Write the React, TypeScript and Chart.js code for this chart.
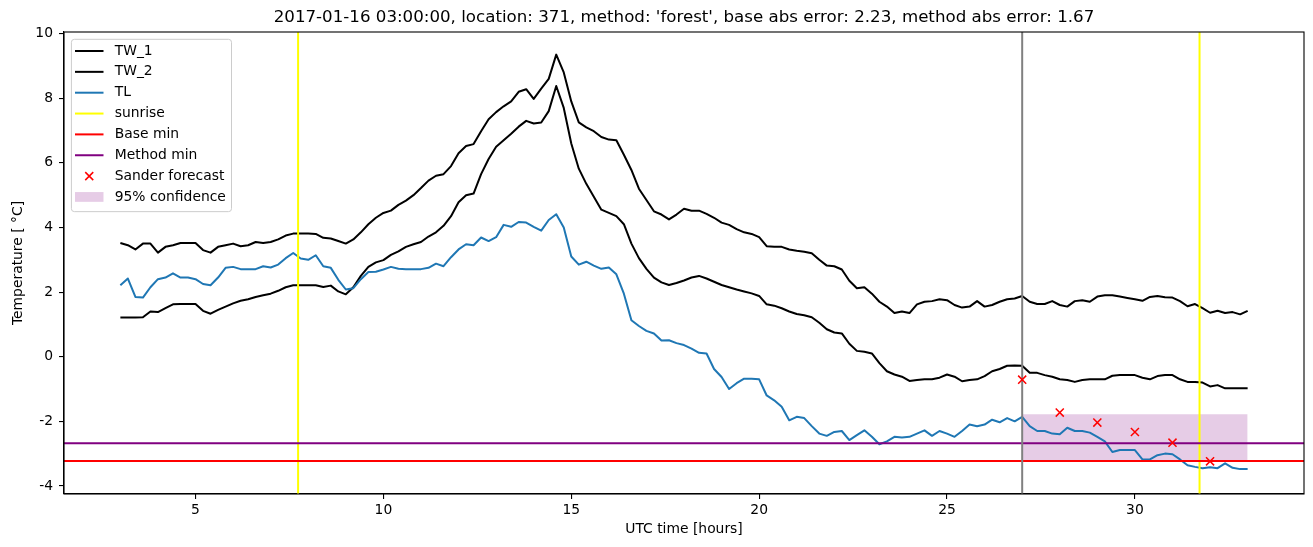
import React, { useEffect, useRef } from 'react';
import { Chart, registerables } from 'chart.js';

Chart.register(...registerables);

const TITLE = "2017-01-16 03:00:00, location: 371, method: 'forest', base abs error: 2.23, method abs error: 1.67";
const X_LABEL = 'UTC time [hours]';
const Y_LABEL = 'Temperature [ °C]';

// time grid (hours, UTC), every 0.2 h from 3 to 33
const HOURS = Array.from({ length: 151 }, (_, i) => Math.round((3 + i * 0.2) * 10) / 10);

const TW_1 = [
  3.52, 3.45, 3.32, 3.50, 3.50, 3.22, 3.40, 3.45, 3.52, 3.52,
  3.52, 3.30, 3.22, 3.40, 3.45, 3.50, 3.42, 3.45, 3.55, 3.52,
  3.55, 3.63, 3.75, 3.81, 3.81, 3.81, 3.80, 3.68, 3.66, 3.58,
  3.50, 3.63, 3.85, 4.10, 4.30, 4.45, 4.52, 4.70, 4.83, 5.00,
  5.22, 5.45, 5.60, 5.65, 5.90, 6.30, 6.52, 6.58, 6.98, 7.35,
  7.57, 7.75, 7.90, 8.20, 8.28, 7.98, 8.30, 8.60, 9.35, 8.80,
  7.90, 7.25, 7.10, 6.98, 6.80, 6.72, 6.70, 6.25, 5.78, 5.20,
  4.85, 4.50, 4.40, 4.25, 4.40, 4.58, 4.52, 4.52, 4.42, 4.30,
  4.15, 4.08, 3.95, 3.85, 3.80, 3.70, 3.42, 3.40, 3.40, 3.32,
  3.28, 3.25, 3.20, 3.00, 2.82, 2.80, 2.70, 2.35, 2.12, 2.15,
  1.95, 1.70, 1.55, 1.35, 1.40, 1.35, 1.62, 1.70, 1.72, 1.78,
  1.75, 1.60, 1.52, 1.55, 1.72, 1.55, 1.60, 1.70, 1.78, 1.80,
  1.88, 1.70, 1.63, 1.63, 1.72, 1.60, 1.55, 1.72, 1.75, 1.70,
  1.86, 1.90, 1.90, 1.86, 1.82, 1.78, 1.73, 1.85, 1.88, 1.84,
  1.83, 1.72, 1.56, 1.63, 1.50, 1.36, 1.42, 1.35, 1.38, 1.31,
  1.42,
];

const TW_2 = [
  1.21, 1.21, 1.21, 1.22, 1.40, 1.38, 1.50, 1.62, 1.63, 1.63,
  1.63, 1.42, 1.33, 1.45, 1.55, 1.65, 1.73, 1.78, 1.85, 1.90,
  1.95, 2.04, 2.15, 2.21, 2.21, 2.21, 2.21, 2.16, 2.20, 2.02,
  1.93, 2.15, 2.50, 2.78, 2.92, 2.99, 3.15, 3.26, 3.40, 3.48,
  3.55, 3.72, 3.85, 4.05, 4.35, 4.78, 5.00, 5.05, 5.65, 6.12,
  6.50, 6.70, 6.90, 7.12, 7.30, 7.22, 7.25, 7.60, 8.38, 7.70,
  6.60, 5.82, 5.35, 4.95, 4.55, 4.45, 4.35, 4.10, 3.50, 3.05,
  2.72, 2.45, 2.30, 2.22, 2.28, 2.36, 2.45, 2.50, 2.42, 2.32,
  2.22, 2.15, 2.08, 2.02, 1.96, 1.88, 1.62, 1.58, 1.50, 1.40,
  1.32, 1.28, 1.22, 1.05, 0.85, 0.75, 0.72, 0.40, 0.18, 0.15,
  0.10, -0.20, -0.45, -0.55, -0.62, -0.75, -0.72, -0.70, -0.70, -0.65,
  -0.55, -0.62, -0.76, -0.72, -0.70, -0.60, -0.45, -0.38, -0.28, -0.27,
  -0.28, -0.50, -0.50, -0.57, -0.62, -0.70, -0.72, -0.78, -0.72, -0.70,
  -0.70, -0.70, -0.59, -0.57, -0.57, -0.57, -0.65, -0.70, -0.60, -0.57,
  -0.57, -0.70, -0.78, -0.78, -0.80, -0.92, -0.88, -0.98, -0.98, -0.98,
  -0.98,
];

const TL = [
  2.21, 2.42, 1.85, 1.83, 2.15, 2.40, 2.45, 2.58, 2.45, 2.45,
  2.40, 2.25, 2.21, 2.45, 2.75, 2.78, 2.71, 2.71, 2.71, 2.80,
  2.76, 2.85, 3.05, 3.21, 3.04, 3.00, 3.14, 2.80, 2.75, 2.38,
  2.08, 2.12, 2.40, 2.62, 2.63, 2.70, 2.78, 2.72, 2.71, 2.71,
  2.71, 2.75, 2.88, 2.80, 3.08, 3.32, 3.48, 3.45, 3.69, 3.58,
  3.70, 4.08, 4.02, 4.17, 4.15, 4.02, 3.90, 4.23, 4.41, 4.00,
  3.10, 2.85, 2.94, 2.82, 2.72, 2.76, 2.55, 1.95, 1.13, 0.95,
  0.80, 0.72, 0.50, 0.51, 0.42, 0.36, 0.25, 0.12, 0.10, -0.38,
  -0.63, -1.00, -0.82, -0.68, -0.68, -0.70, -1.20, -1.35, -1.55, -1.97,
  -1.86, -1.90, -2.15, -2.38, -2.45, -2.33, -2.30, -2.58, -2.43, -2.28,
  -2.48, -2.71, -2.62, -2.48, -2.50, -2.48, -2.38, -2.28, -2.45, -2.30,
  -2.38, -2.48, -2.30, -2.10, -2.15, -2.10, -1.95, -2.03, -1.90, -2.00,
  -1.86, -2.15, -2.30, -2.30, -2.38, -2.40, -2.20, -2.30, -2.30, -2.35,
  -2.48, -2.62, -2.95, -2.89, -2.89, -2.89, -3.18, -3.18, -3.05, -3.00,
  -3.02, -3.18, -3.36, -3.41, -3.45, -3.42, -3.45, -3.30, -3.44, -3.48,
  -3.48,
];

const FORECAST_HOURS = [27, 28, 29, 30, 31, 32];
const FORECAST = [-0.71, -1.73, -2.04, -2.33, -2.66, -3.24];

const SUNRISE = [7.73, 31.72];
const NOW_HOUR = 27;
const BASE_MIN = -3.23;
const METHOD_MIN = -2.68;
const CONF_HOURS = [27, 33];
const CONF_UPPER = [-1.78, -1.78];
const CONF_LOWER = [-3.22, -3.22];

const X_MIN = 1.5;
const X_MAX = 34.5;
const Y_MIN = -4.25;
const Y_MAX = 10.05;
const X_STEP = 5;
const Y_STEP = 2;

const FONT = "'DejaVu Sans', sans-serif";
const FS = 13.89;

const pts = (xs: number[], ys: number[]) => xs.map((x, i) => ({ x, y: ys[i] }));

function lineDs(label: string, data: any[], color: string, order: number, legendKind?: string) {
  return {
    label,
    data,
    borderColor: color,
    backgroundColor: color,
    borderWidth: 2,
    pointRadius: 0,
    fill: false,
    tension: 0,
    borderJoinStyle: 'round',
    borderCapStyle: 'butt',
    order,
    legendKind,
  };
}

const mplPlugin = {
  id: 'mpl',
  afterDatasetsDraw(chart: any) {
    const { ctx, chartArea: a } = chart;
    ctx.save();
    ctx.strokeStyle = '#000';
    ctx.lineWidth = 1.1;
    ctx.strokeRect(a.left, a.top, a.right - a.left, a.bottom - a.top);
    ctx.restore();
  },
  afterDraw(chart: any) {
    const { ctx, chartArea: a } = chart;
    ctx.save();
    ctx.fillStyle = '#000';
    ctx.font = `16.67px ${FONT}`;
    ctx.textAlign = 'center';
    ctx.textBaseline = 'middle';
    ctx.fillText(TITLE, (a.left + a.right) / 2, a.top - 14);

    const items = chart.data.datasets.filter((d: any) => d.legendKind);
    ctx.font = `${FS}px ${FONT}`;
    const textW = Math.max(...items.map((d: any) => ctx.measureText(d.label).width));
    const bx = a.left + 7.4;
    const by = a.top + 7.3;
    const h0 = bx + 3.6;
    const h1 = h0 + 28.5;
    const textX = bx + 43.3;
    const rowH = 20.85;
    const firstY = by + 11.7;
    const bw = textX + textW + 5.6 - bx;
    const bh = 11.7 + rowH * (items.length - 1) + 14.7;
    ctx.beginPath();
    ctx.roundRect(bx, by, bw, bh, 3);
    ctx.fillStyle = 'rgba(255,255,255,0.8)';
    ctx.fill();
    ctx.strokeStyle = '#cccccc';
    ctx.lineWidth = 1;
    ctx.stroke();
    items.forEach((d: any, i: number) => {
      const cy = firstY + i * rowH;
      if (d.legendKind === 'line') {
        ctx.beginPath();
        ctx.moveTo(h0, cy);
        ctx.lineTo(h1, cy);
        ctx.strokeStyle = d.borderColor;
        ctx.lineWidth = 2;
        ctx.stroke();
      } else if (d.legendKind === 'marker') {
        const cx = (h0 + h1) / 2;
        ctx.beginPath();
        ctx.moveTo(cx - 4, cy - 4);
        ctx.lineTo(cx + 4, cy + 4);
        ctx.moveTo(cx + 4, cy - 4);
        ctx.lineTo(cx - 4, cy + 4);
        ctx.strokeStyle = d.pointBorderColor;
        ctx.lineWidth = 1.5;
        ctx.stroke();
      } else if (d.legendKind === 'patch') {
        ctx.fillStyle = d.backgroundColor;
        ctx.fillRect(h0, cy - 4.9, h1 - h0, 9.8);
      }
      ctx.fillStyle = '#000';
      ctx.textAlign = 'left';
      ctx.textBaseline = 'middle';
      ctx.fillText(d.label, textX, cy);
    });
    ctx.restore();
  },
};

export default function App() {
  const ref = useRef<HTMLCanvasElement>(null);
  useEffect(() => {
    Chart.defaults.font.family = FONT;
    const datasets: any[] = [
      lineDs('TW_1', pts(HOURS, TW_1), '#000000', 90, 'line'),
      lineDs('TW_2', pts(HOURS, TW_2), '#000000', 85, 'line'),
      lineDs('TL', pts(HOURS, TL), '#1f77b4', 80, 'line'),
      lineDs('sunrise', pts([SUNRISE[0], SUNRISE[0]], [Y_MIN, Y_MAX]), '#ffff00', 60, 'line'),
      lineDs('', pts([SUNRISE[1], SUNRISE[1]], [Y_MIN, Y_MAX]), '#ffff00', 60),
      lineDs('Base min', pts([X_MIN, X_MAX], [BASE_MIN, BASE_MIN]), '#ff0000', 50, 'line'),
      lineDs('Method min', pts([X_MIN, X_MAX], [METHOD_MIN, METHOD_MIN]), '#800080', 45, 'line'),
      lineDs('', pts([NOW_HOUR, NOW_HOUR], [Y_MIN, Y_MAX]), '#808080', 40),
      {
        label: 'Sander forecast',
        data: pts(FORECAST_HOURS, FORECAST),
        showLine: false,
        pointStyle: 'crossRot',
        pointRadius: 5.7,
        pointBorderColor: '#ff0000',
        pointBackgroundColor: '#ff0000',
        pointBorderWidth: 1.5,
        borderColor: '#ff0000',
        order: 10,
        legendKind: 'marker',
      },
      {
        label: '95% confidence',
        data: pts(CONF_HOURS, CONF_UPPER),
        borderWidth: 0,
        borderColor: 'rgba(0,0,0,0)',
        pointRadius: 0,
        backgroundColor: 'rgba(128,0,128,0.2)',
        fill: 10,
        order: 100,
        legendKind: 'patch',
      },
      {
        label: '',
        data: pts(CONF_HOURS, CONF_LOWER),
        borderWidth: 0,
        borderColor: 'rgba(0,0,0,0)',
        pointRadius: 0,
        fill: false,
        order: 101,
      },
    ];
    const chart = new Chart(ref.current as HTMLCanvasElement, {
      type: 'line',
      data: { datasets },
      options: {
        animation: false,
        responsive: false,
        events: [],
        layout: { padding: { left: 0, right: 9, top: 32, bottom: 0 } },
        plugins: {
          legend: { display: false },
          title: { display: false },
          tooltip: { enabled: false },
        },
        scales: {
          x: {
            type: 'linear',
            min: X_MIN,
            max: X_MAX,
            afterFit: (s: any) => { s.height = 53; },
            ticks: { stepSize: X_STEP, includeBounds: false, color: '#000', font: { size: FS }, padding: 3, maxRotation: 0 },
            grid: { drawOnChartArea: false, drawTicks: true, tickLength: 5, color: '#000', lineWidth: 1.1 },
            border: { display: true, color: '#000', width: 1.1 },
            title: { display: true, text: X_LABEL, color: '#000', font: { size: FS }, padding: { top: 0, bottom: 9 } },
          },
          y: {
            type: 'linear',
            min: Y_MIN,
            max: Y_MAX,
            afterFit: (s: any) => { s.width = 64; },
            ticks: { stepSize: Y_STEP, includeBounds: false, color: '#000', font: { size: FS }, padding: 6 },
            grid: { drawOnChartArea: false, drawTicks: true, tickLength: 5, color: '#000', lineWidth: 1.1 },
            border: { display: true, color: '#000', width: 1.1 },
            title: { display: true, text: Y_LABEL, color: '#000', font: { size: FS }, padding: { top: 10, bottom: 0 } },
          },
        },
      } as any,
      plugins: [mplPlugin],
    });
    return () => chart.destroy();
  }, []);
  return (
    <div style={{ position: 'absolute', left: 0, top: 0, width: 1313, height: 547, background: '#fff' }}>
      <canvas ref={ref} width={1313} height={547} style={{ display: 'block', width: 1313, height: 547 }} />
    </div>
  );
}
